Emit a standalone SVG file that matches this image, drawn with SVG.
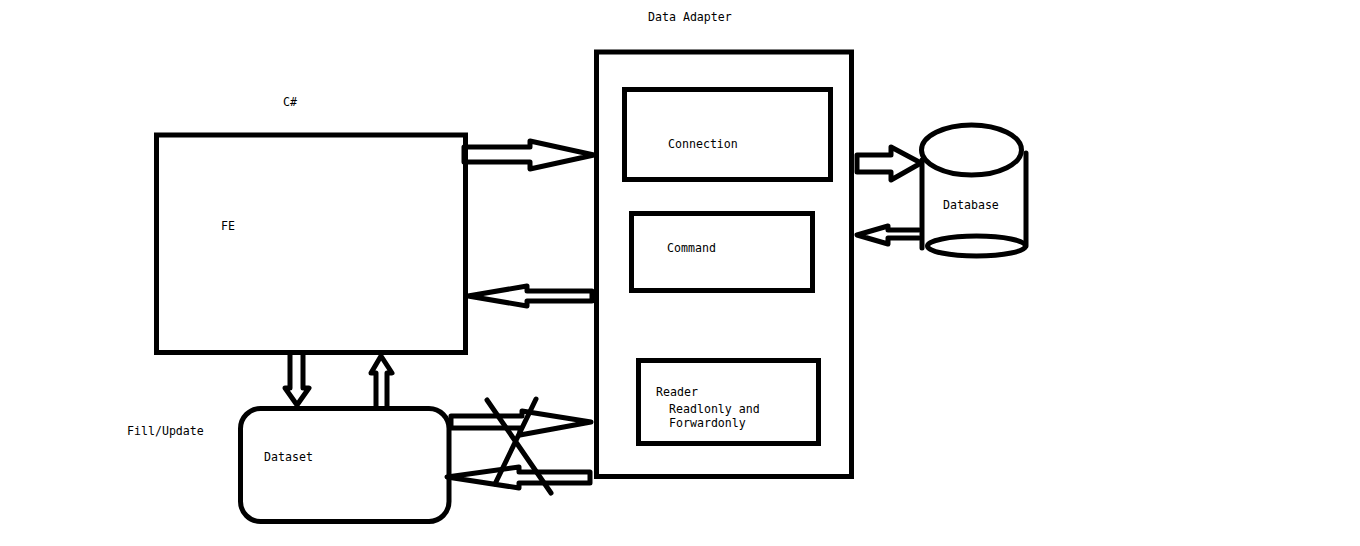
<svg xmlns="http://www.w3.org/2000/svg" width="1360" height="546" viewBox="0 0 1360 546">
<style>
.s{fill:none;stroke:#000;stroke-width:5;stroke-linejoin:round;stroke-linecap:round}
.b{fill:none;stroke:#000;stroke-width:5;stroke-linejoin:miter}
.t{font-family:"DejaVu Sans Mono","Liberation Mono",monospace;font-size:11.6px;fill:#000}
</style>
<rect width="1360" height="546" fill="#fff"/>
<g id="fe"><rect class="b" x="156.500" y="135" width="309" height="217.500"/><text class="t" x="221" y="230">FE</text></g>
<g id="adapter"><rect class="b" x="596.500" y="52" width="255" height="424.500"/></g>
<g id="connection"><rect class="b" x="624.500" y="89.500" width="206" height="90"/><text class="t" x="668" y="148">Connection</text></g>
<g id="command"><rect class="b" x="631.500" y="213.500" width="181" height="77"/><text class="t" x="667" y="252">Command</text></g>
<g id="reader"><rect class="b" x="638.500" y="360.500" width="180" height="83"/><text class="t" x="656" y="396">Reader</text><text class="t" x="669" y="413">Readlonly and</text><text class="t" x="669" y="427">Forwardonly</text></g>
<g id="dataset"><rect class="b" x="240.500" y="408.500" width="208.500" height="113" rx="20"/><text class="t" x="264" y="461">Dataset</text></g>
<g id="database">
<path class="s" d="M922 160V248M1026 153V246"/>
<ellipse class="s" cx="971.500" cy="150" rx="50" ry="25"/>
<ellipse class="s" cx="976.500" cy="246" rx="49" ry="10"/>
<text class="t" x="943" y="209">Database</text></g>
<g id="labels">
<text class="t" x="648" y="21">Data Adapter</text>
<text class="t" x="283" y="106">C#</text>
<text class="t" x="127" y="435">Fill/Update</text>
</g>
<g id="connectors">
<path class="s" d="M464 147V162M464 147H530V141L594 155 530 169V162H464"/>
<path class="s" d="M592 291V301M592 291H527V286L468 296 527 306V301H592"/>
<path class="s" d="M857 155V172M857 155H891V147L921 163 891 180V172H857"/>
<path class="s" d="M919 230H888V226L857 235 888 244V238H919"/>
<path class="s" d="M290 353V388H285L297 405 309 388H303V353"/>
<path class="s" d="M376 406V373H371L381 356 392 373H387V406"/>
<path class="s" d="M451 416V428M451 416H522V411L591 422 520 435V428H451"/>
<path class="s" d="M590 472V483M590 472H519V467L447 477 519 488V483H590"/>
<path class="s" d="M487 400L551 493M536 399L495 484"/>
</g>
</svg>
